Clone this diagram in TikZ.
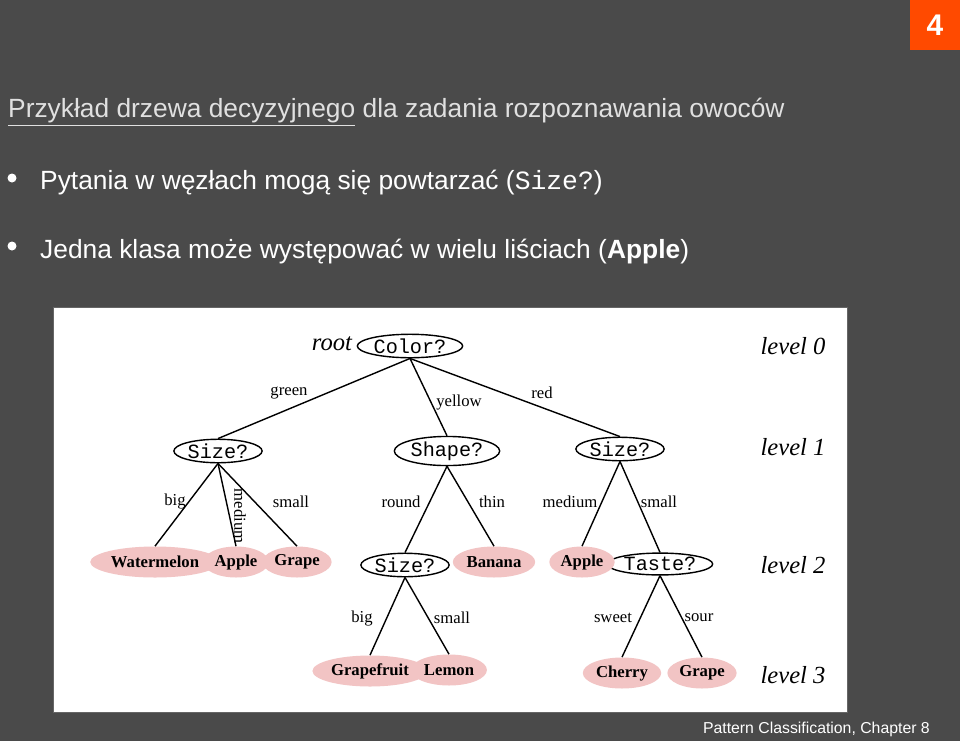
\documentclass[tikz,border=0pt]{standalone}
\usepackage{fontspec}
\setmainfont{Liberation Sans}
\newfontfamily\treeserif{Liberation Serif}
\newfontfamily\treemono{Liberation Mono}
\usetikzlibrary{shapes.geometric}
\definecolor{slidebg}{HTML}{4A4A4A}
\definecolor{leafpink}{HTML}{F2C4C4}
\definecolor{pageorange}{HTML}{FF4A00}
\tikzset{
  question/.style={ellipse,draw,thick,inner sep=0.5pt,font=\treemono\fontsize{11.5}{12}\selectfont},
  leaf/.style={ellipse,fill=leafpink,inner sep=1pt,minimum height=0.62cm,font=\treeserif\bfseries\fontsize{9.5}{10}\selectfont},
  branch/.style={font=\treeserif\fontsize{9.5}{10}\selectfont},
  levelname/.style={font=\treeserif\itshape\fontsize{14}{14}\selectfont},
  edge/.style={thick}
}
\begin{document}
\begin{tikzpicture}[x=0.02cm,y=-0.02cm]
\useasboundingbox (0,0) rectangle (960,741);
\fill[slidebg] (0,0) rectangle (960,741);
% page number
\fill[pageorange] (910,0) rectangle (960,50);
\node[white,font=\bfseries\fontsize{17}{17}\selectfont] (pnum) at (935,25) {4};
% title and bullets
\node[anchor=west,text=white!88!black,font=\fontsize{15}{15}\selectfont] (title) at (2,112)
  {\underline{Przykład drzewa decyzyjnego} dla zadania rozpoznawania owoców};
\fill[white] (12,178) circle (4.5);
\fill[white] (12,246) circle (4.5);
\node[anchor=west,white,font=\fontsize{15}{15}\selectfont] (b1) at (34,183)
  {Pytania w węzłach mogą się powtarzać ({\treemono Size?})};
\node[anchor=west,white,font=\fontsize{15}{15}\selectfont] (b2) at (34,252)
  {Jedna klasa może występować w wielu liściach (\textbf{Apple})};
% panel
\draw[fill=white,draw=black!60] (53,307) rectangle (847,712);
% questions
\node[question] (color) at (410,346) {Color?};
\node[question] (sizeA) at (218,451) {Size?};
\node[question] (shape) at (447,451) {Shape?};
\node[question] (sizeB) at (620,449) {Size?};
\node[question] (sizeC) at (405,565) {Size?};
\node[question] (taste) at (660,564) {Taste?};
% leaves
\node[leaf] (water) at (155,562) {Watermelon};
\node[leaf] (apple1) at (236,562) {Apple};
\node[leaf] (grape1) at (297,562) {Grape};
\node[leaf] (banana) at (494,562) {Banana};
\node[leaf] (apple2) at (582,562) {Apple};
\node[leaf] (gfruit) at (370,671) {Grapefruit};
\node[leaf] (lemon) at (449,670) {Lemon};
\node[leaf] (cherry) at (622,673) {Cherry};
\node[leaf] (grape2) at (702,673) {Grape};
% edges
\draw[edge] (color.south) -- (sizeA.north);
\draw[edge] (color.south) -- (shape.north);
\draw[edge] (color.south) -- (sizeB.north);
\draw[edge] (sizeA.south) -- (water.north);
\draw[edge] (sizeA.south) -- (apple1.north);
\draw[edge] (sizeA.south) -- (grape1.north);
\draw[edge] (shape.south) -- (sizeC.north);
\draw[edge] (shape.south) -- (banana.north);
\draw[edge] (sizeB.south) -- (apple2.north);
\draw[edge] (sizeB.south) -- (taste.north);
\draw[edge] (sizeC.south) -- (gfruit.north);
\draw[edge] (sizeC.south) -- (lemon.north);
\draw[edge] (taste.south) -- (cherry.north);
\draw[edge] (taste.south) -- (grape2.north);
% branch labels
\node[branch] (lgreen) at (289,393) {green};
\node[branch] (lyellow) at (459,403) {yellow};
\node[branch] (lred) at (542,393) {red};
\node[branch] (lbig1) at (175,502) {big};
\node[branch,rotate=-90] (lmed1) at (240,516) {medium};
\node[branch] (lsmall1) at (291,502) {small};
\node[branch] (lround) at (401,502) {round};
\node[branch] (lthin) at (492,502) {thin};
\node[branch] (lmed2) at (570,502) {medium};
\node[branch] (lsmall2) at (659,502) {small};
\node[branch] (lbig2) at (362,618) {big};
\node[branch] (lsmall3) at (452,618) {small};
\node[branch] (lsweet) at (613,618) {sweet};
\node[branch] (lsour) at (699,618) {sour};
% levels
\node[levelname] (root) at (332,344) {root};
\node[levelname] (lev0) at (793,346) {level 0};
\node[levelname] (lev1) at (793,447) {level 1};
\node[levelname] (lev2) at (793,565) {level 2};
\node[levelname] (lev3) at (793,675) {level 3};
% footer
\node[anchor=east,white,font=\fontsize{9}{9}\selectfont] (foot) at (936,729) {Pattern Classification, Chapter 8};
\end{tikzpicture}
\end{document}
